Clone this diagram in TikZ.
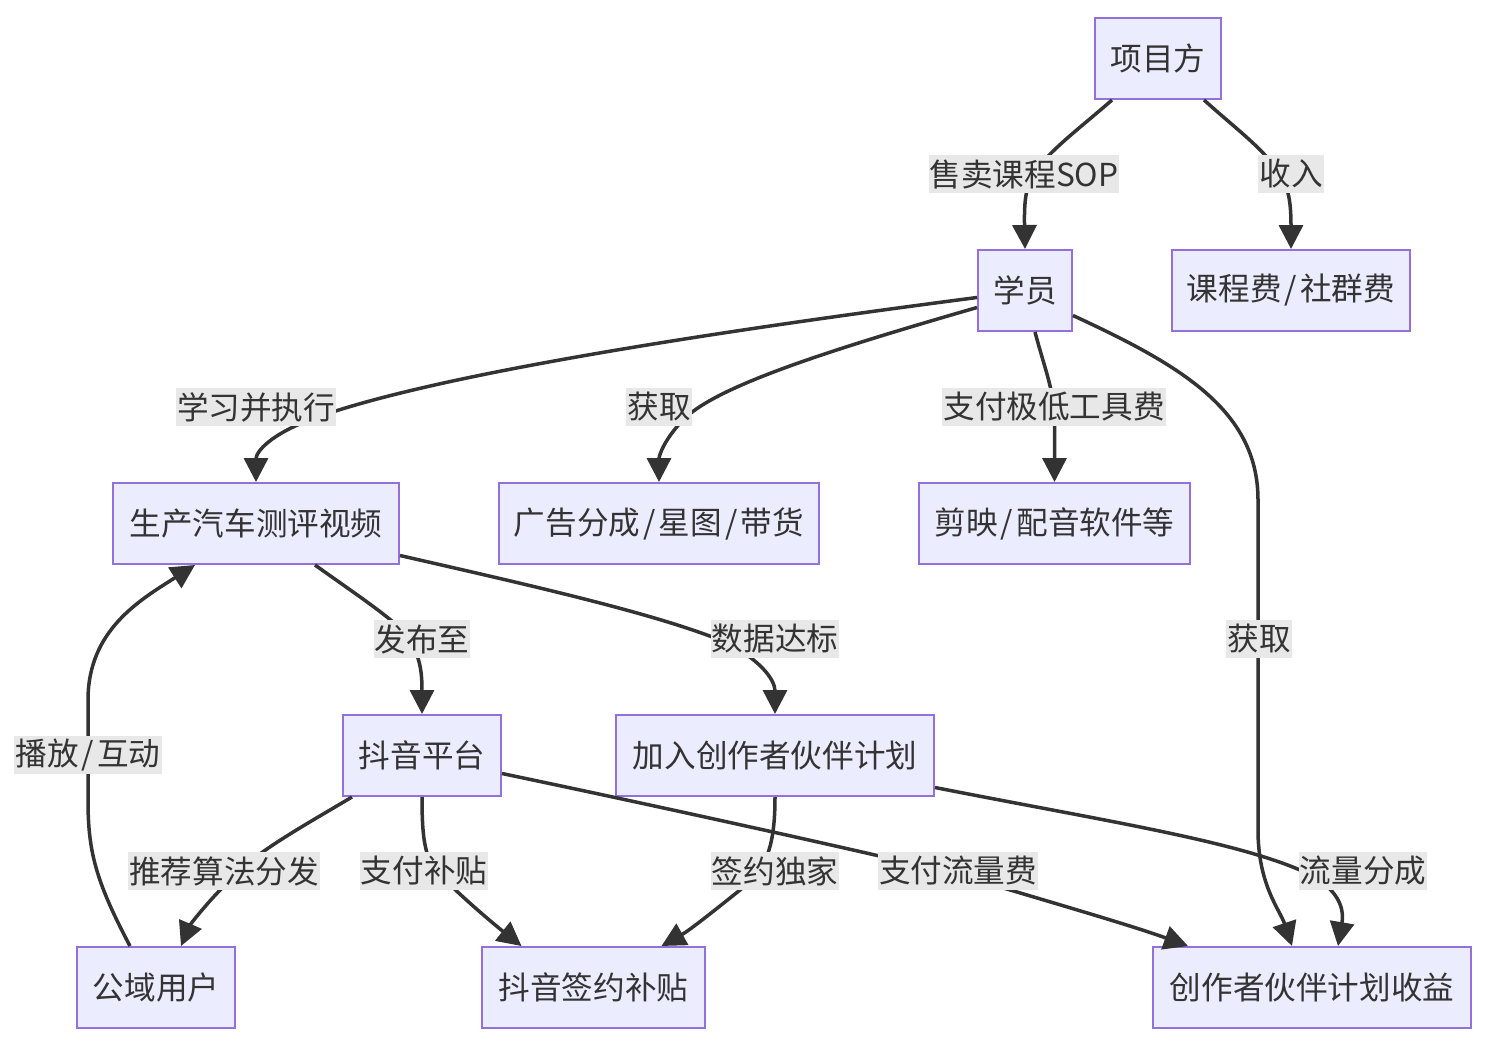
\documentclass[tikz,border=0pt]{standalone}
\usepackage{fontspec}
\setmainfont{Noto Sans CJK SC}
\usetikzlibrary{arrows.meta,calc}
\definecolor{nodefill}{HTML}{ECECFF}
\definecolor{nodeline}{HTML}{9370DB}
\definecolor{ink}{HTML}{333333}
\definecolor{lblbg}{HTML}{E8E8E8}
\newcommand\myslash{\hspace{1.6pt}/\hspace{1.6pt}}
\begin{document}
\begin{tikzpicture}[x=0.5pt,y=-0.5pt,
  box/.style={draw=nodeline, fill=nodefill, line width=1pt, minimum height=40.5pt,
    inner sep=0pt, text=ink, font=\fontsize{15.8pt}{19pt}\selectfont},
  lbl/.style={fill=lblbg, inner xsep=0.5pt, inner ysep=0pt, minimum height=19pt,
    text=ink, font=\fontsize{15.8pt}{19pt}\selectfont},
  edge/.style={draw=ink, line width=1.75pt, -{Triangle[length=12pt,width=12pt]}}]
\useasboundingbox (0,0) rectangle (1488,1044);

% nodes
\node[box, minimum width=63pt]  (xm) at (1158,58.5)  {项目方};
\node[box, minimum width=47pt]  (xy) at (1025,290.5) {学员};
\node[box, minimum width=119pt] (kc) at (1291,290.5) {课程费\myslash 社群费};
\node[box, minimum width=143pt] (sc) at (256,523.5)  {生产汽车测评视频};
\node[box, minimum width=160pt] (gg) at (659,523.5)  {广告分成\myslash 星图\myslash 带货};
\node[box, minimum width=135.5pt] (jy) at (1054.5,523.5) {剪映\myslash 配音软件等};
\node[box, minimum width=79pt]  (dy) at (422,755.5)  {抖音平台};
\node[box, minimum width=159pt] (jr) at (775,755.5)  {加入创作者伙伴计划};
\node[box, minimum width=79pt]  (gy) at (156,987.5)  {公域用户};
\node[box, minimum width=111.5pt] (qy) at (593.5,987.5) {抖音签约补贴};
\node[box, minimum width=159pt] (cp) at (1312,987.5) {创作者伙伴计划收益};

% edges
\draw[edge] ($(xm.south)+(-46,0)$) .. controls (1080,128) and (1050,150) .. (1035,172)
  .. controls (1026,185) and (1024,200) .. (xy.north);
\draw[edge] ($(xm.south)+(46,0)$) .. controls (1235,128) and (1265,150) .. (1278,172)
  .. controls (1288,185) and (1291,200) .. (kc.north);
\draw[edge] ($(xy.west)+(0,7)$) .. controls (650,340) and (420,380) .. (315,418)
  .. controls (270,434) and (256,452) .. (sc.north);
\draw[edge] ($(xy.west)+(0,17)$) .. controls (830,350) and (720,385) .. (685,418)
  .. controls (665,438) and (659,455) .. (gg.north);
\draw[edge] ($(xy.south)+(10,0)$) .. controls (1045,370) and (1054,390) .. (1054.5,420)
  -- (jy.north);
\draw[edge] ($(xy.east)+(0,25)$) .. controls (1180,365) and (1258,410) .. (1258,500)
  -- (1258,830) .. controls (1258,885) and (1280,910) .. ($(cp.north)+(-20,0)$);
\draw[edge] ($(sc.south)+(59,0)$) .. controls (350,590) and (380,610) .. (400,628)
  .. controls (420,650) and (422,670) .. (dy.north);
\draw[edge] ($(sc.east)+(0,32)$) .. controls (520,583) and (650,612) .. (720,640)
  .. controls (760,658) and (775,680) .. (jr.north);
\draw[edge] ($(dy.south)+(-70,0)$) .. controls (300,828) and (250,855) .. (225,885)
  .. controls (205,905) and (190,925) .. ($(gy.north)+(25,0)$);
\draw[edge] (dy.south) .. controls (422,840) and (425,860) .. (440,875)
  .. controls (465,900) and (495,925) .. ($(qy.north)+(-72,0)$);
\draw[edge] ($(dy.east)+(0,18)$) .. controls (700,815) and (900,860) .. (960,875)
  .. controls (1060,905) and (1130,925) .. ($(cp.north)+(-124,0)$);
\draw[edge] (jr.south) .. controls (775,850) and (765,870) .. (740,890)
  .. controls (715,910) and (690,930) .. ($(qy.north)+(68,0)$);
\draw[edge] ($(jr.east)+(0,32)$) .. controls (1100,820) and (1230,840) .. (1300,870)
  .. controls (1335,885) and (1345,905) .. ($(cp.north)+(26,0)$);
\draw[edge] ($(gy.north)+(-26,0)$) .. controls (95,880) and (88,850) .. (88,800)
  -- (88,700) .. controls (88,630) and (140,600) .. ($(sc.south)+(-61,0)$);

% edge labels
\node[lbl] (t1)  at (1024,174) {售卖课程SOP};
\node[lbl] (t2)  at (1291,174) {收入};
\node[lbl] (t3)  at (256,407)  {学习并执行};
\node[lbl] (t4)  at (659,407)  {获取};
\node[lbl] (t5)  at (1054,407) {支付极低工具费};
\node[lbl] (t6)  at (1259,639) {获取};
\node[lbl] (t7)  at (422,639)  {发布至};
\node[lbl] (t8)  at (775,639)  {数据达标};
\node[lbl] (t9)  at (224,871)  {推荐算法分发};
\node[lbl] (t10) at (424,871)  {支付补贴};
\node[lbl] (t11) at (958,871)  {支付流量费};
\node[lbl] (t12) at (775,871)  {签约独家};
\node[lbl] (t13) at (1363,871) {流量分成};
\node[lbl] (t14) at (88,755)   {播放\myslash 互动};
\end{tikzpicture}
\end{document}
